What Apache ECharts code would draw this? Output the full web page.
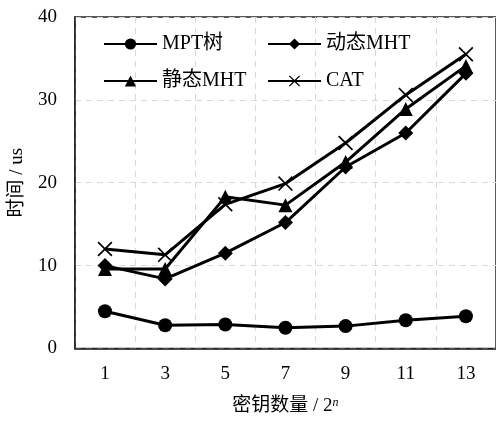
<!DOCTYPE html>
<html><head><meta charset="utf-8">
<script src="https://cdn.jsdelivr.net/npm/echarts@6/dist/echarts.min.js"></script>
<style>html,body{margin:0;padding:0;background:#fff}#c{width:496px;height:421px}</style>
</head><body><div id="c"></div>
<script>
var categories = ['1','3','5','7','9','11','13'];
var mptTree = [4.5, 2.8, 2.9, 2.5, 2.7, 3.4, 3.9];
var dynamicMHT = [10.0, 8.4, 11.5, 15.2, 21.9, 26.0, 33.2];
var staticMHT = [9.6, 9.6, 18.3, 17.3, 22.5, 28.9, 34.1];
var cat = [12.0, 11.3, 17.4, 19.9, 24.8, 30.6, 35.5];
var yTicks = [0, 10, 20, 30, 40];
var seriesNames = ['MPT树', '动态MHT', '静态MHT', 'CAT'];

var FONT = "'Liberation Serif', 'Times New Roman', 'Noto Sans CJK SC', serif";
var crossPath = 'path://M0,0.8 L0.8,0 L5,4.2 L9.2,0 L10,0.8 L5.8,5 L10,9.2 L9.2,10 L5,5.8 L0.8,10 L0,9.2 L4.2,5 Z';

function mk(name, data, symbol, size) {
  return {
    name: name, type: 'line', data: data, symbol: symbol, symbolSize: size,
    showSymbol: true,
    lineStyle: {color: '#000', width: 3},
    itemStyle: {color: '#000', borderColor: '#000', borderWidth: 0},
    emphasis: {disabled: true},
    z: 3
  };
}

function lg(name, left, top) {
  return {
    data: [name], left: left, top: top, orient: 'horizontal',
    itemWidth: 53, itemHeight: 14, itemGap: 0, padding: 0,
    textStyle: {fontFamily: FONT, fontSize: 20, color: '#000', padding: [0,0,0,0]},
    selectedMode: false
  };
}

var chart = echarts.init(document.getElementById('c'), null, {renderer: 'canvas'});
chart.setOption({
  backgroundColor: '#fff',
  animation: false,
  legend: [
    lg(seriesNames[0], 103, 34),
    lg(seriesNames[1], 267, 34),
    lg(seriesNames[2], 103, 71),
    lg(seriesNames[3], 267, 71)
  ],
  grid: {left: 74.75, top: 17, right: -2.25, bottom: 69, show: true, borderColor: '#222', borderWidth: 1.5, backgroundColor: 'transparent'},
  xAxis: {
    type: 'category', data: categories, boundaryGap: true,
    name: '密钥数量 / 2{sup|n}', nameLocation: 'middle', nameGap: 48,
    nameTextStyle: {fontFamily: FONT, fontSize: 19, color: '#000',
      rich: {sup: {fontFamily: FONT, fontSize: 12, fontStyle: 'italic', verticalAlign: 'top', padding: [0,0,8,0], color: '#000'}}},
    axisLine: {lineStyle: {color: '#222', width: 1.5}},
    axisTick: {show: false},
    axisLabel: {fontFamily: FONT, fontSize: 19, color: '#000', margin: 16},
    splitLine: {show: true, interval: 0, lineStyle: {color: '#d8d8d8', type: [6, 5], width: 1}}
  },
  yAxis: {
    type: 'value', min: yTicks[0], max: yTicks[yTicks.length - 1], interval: 10,
    name: '时间 / us', nameLocation: 'middle', nameGap: 40, nameRotate: 90,
    nameTextStyle: {fontFamily: FONT, fontSize: 19, color: '#000'},
    axisLine: {show: true, lineStyle: {color: '#222', width: 1.5}},
    axisTick: {show: false},
    axisLabel: {fontFamily: FONT, fontSize: 19, color: '#000', margin: 18},
    splitLine: {show: true, lineStyle: {color: '#d8d8d8', type: [6, 5], width: 1}}
  },
  series: [
    mk(seriesNames[0], mptTree, 'circle', 14),
    mk(seriesNames[1], dynamicMHT, 'diamond', 15),
    mk(seriesNames[2], staticMHT, 'triangle', 14),
    mk(seriesNames[3], cat, crossPath, 15)
  ]
});
</script>
</body></html>
